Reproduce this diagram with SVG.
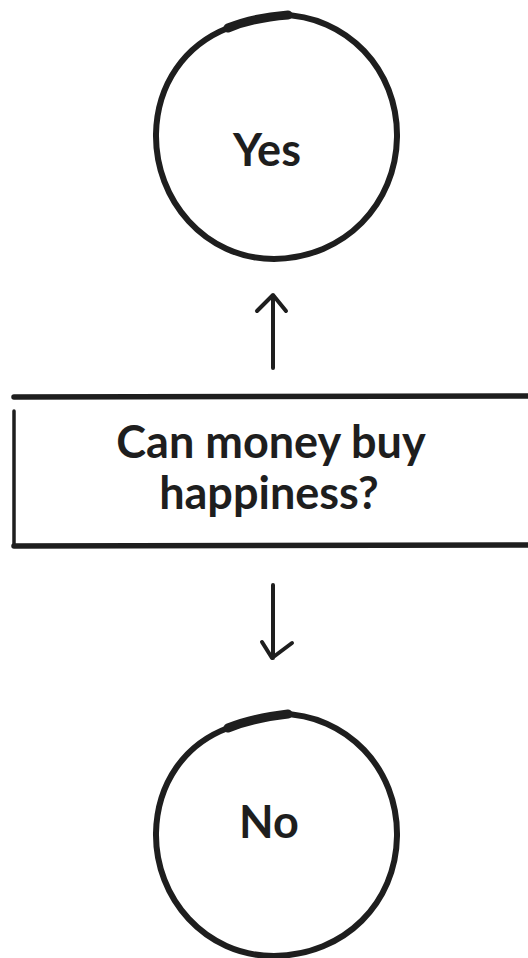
<svg xmlns="http://www.w3.org/2000/svg" width="528" height="958" viewBox="0 0 528 958">
<style>
.ln{fill:none;stroke:#1e1e1e;stroke-linecap:round;stroke-linejoin:round}
.t{font-family:Lato,"Open Sans",sans-serif;font-weight:700;font-size:45px;fill:#1e1e1e;text-anchor:middle}
</style>
<rect width="528" height="958" fill="#fff"/>
<g id="yes">
<path class="ln" stroke-width="6" d="M280 15 C 347 15, 398 70, 397 137 C 396 204, 345 258, 274 259 C 205 259, 155 200, 156 134 C 157 84, 185 45, 228 28"/>
<path class="ln" stroke-width="9" d="M228 28 C 245 21, 262 17, 288 15"/>
<text class="t" x="267" y="166">Yes</text>
</g>
<g id="question">
<path class="ln" stroke-width="5.5" d="M14 397 L 530 396"/>
<path class="ln" stroke-width="3.5" d="M14 411 L 14 545"/>
<path class="ln" stroke-width="5.5" d="M14 546 L 530 545"/>
<text class="t" x="271" y="458">Can money buy</text>
<text class="t" x="269" y="509">happiness?</text>
</g>
<g id="no">
<path class="ln" stroke-width="6" d="M280 714 C 347 714, 398 769, 397 836 C 396 903, 345 955, 274 956 C 205 956, 155 898, 156 833 C 157 783, 185 744, 228 728"/>
<path class="ln" stroke-width="9" d="M228 728 C 245 721, 262 717, 288 714"/>
<text class="t" x="269" y="838">No</text>
</g>
<g id="connectors">
<path class="ln" stroke-width="4" d="M273 368 L 273 295 M257 311 L 273 295 L 286 311"/>
<path class="ln" stroke-width="4" d="M273 585 L 273 658 M262 642 L 272 658 L 292 643"/>
</g>
</svg>
